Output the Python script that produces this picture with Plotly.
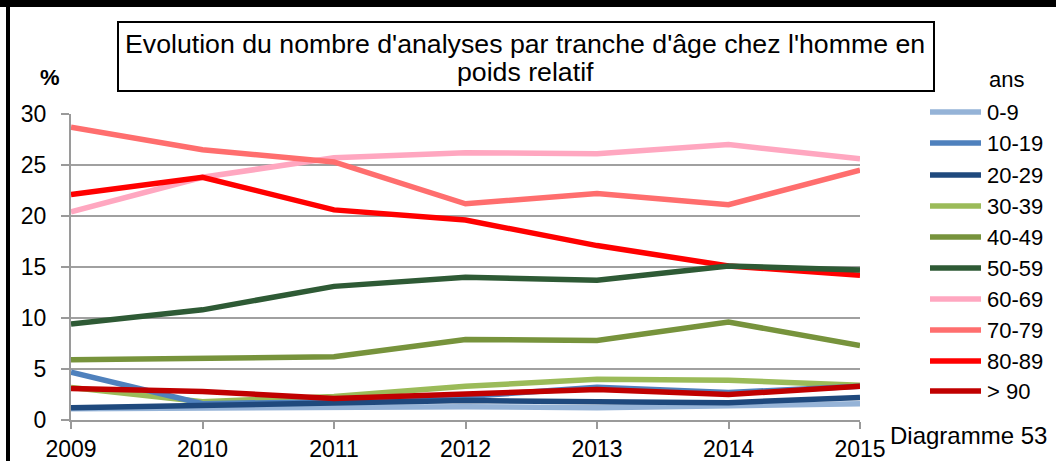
import plotly.graph_objects as go

# Years on the x axis
years = [2009, 2010, 2011, 2012, 2013, 2014, 2015]

# Share of analyses (%) per age band
age_bands = ["0-9", "10-19", "20-29", "30-39", "40-49", "50-59",
             "60-69", "70-79", "80-89", "> 90"]

v_0_9 = [1.1, 1.2, 1.2, 1.3, 1.2, 1.4, 1.6]
v_10_19 = [4.7, 1.6, 1.8, 2.3, 3.2, 2.7, 3.3]
v_20_29 = [1.2, 1.4, 1.6, 1.9, 1.8, 1.7, 2.2]
v_30_39 = [3.2, 1.8, 2.3, 3.3, 4.0, 3.9, 3.4]
v_40_49 = [5.9, 6.1, 6.2, 7.9, 7.8, 9.6, 7.3]
v_50_59 = [9.4, 10.8, 13.1, 14.0, 13.7, 15.1, 14.7]
v_60_69 = [20.4, 23.8, 25.7, 26.2, 26.1, 27.0, 25.6]
v_70_79 = [28.7, 26.5, 25.3, 21.2, 22.2, 21.1, 24.5]
v_80_89 = [22.1, 23.8, 20.6, 19.6, 17.1, 15.1, 14.2]
v_90 = [3.1, 2.8, 2.1, 2.5, 3.0, 2.5, 3.3]

series = [v_0_9, v_10_19, v_20_29, v_30_39, v_40_49, v_50_59,
          v_60_69, v_70_79, v_80_89, v_90]

colors = ["#95b3d7", "#4f81bd", "#1f497d", "#9bbb59", "#77933c", "#2e5a35",
          "#ffa7c0", "#ff6e6e", "#ff0000", "#c00000"]

y_ticks = [0, 5, 10, 15, 20, 25, 30]

FONT = "Liberation Sans, Arial, sans-serif"
W, H = 1056, 461
L, R, T, B = 71, 860, 114, 420  # plot area in pixels


def px(x):
    return (x - L) / (R - L)


def py(y):
    return (B - y) / (B - T)


fig = go.Figure()

# Draw back-to-front so the lower bands sit on top
order = [6, 7, 8, 5, 4, 3, 1, 0, 2, 9]
for i in order:
    fig.add_trace(go.Scatter(
        x=years, y=series[i], mode="lines", name=age_bands[i],
        line=dict(color=colors[i], width=5.5),
        showlegend=False, cliponaxis=False,
    ))

shapes = []
annotations = []

# Outer frame edges (top and left)
shapes.append(dict(type="rect", xref="paper", yref="paper",
                   x0=px(0), x1=px(W), y0=py(0), y1=py(7),
                   fillcolor="black", line=dict(width=0), layer="above"))
shapes.append(dict(type="rect", xref="paper", yref="paper",
                   x0=px(6), x1=px(10), y0=py(0), y1=py(H),
                   fillcolor="black", line=dict(width=0), layer="above"))

# Title box
shapes.append(dict(type="rect", xref="paper", yref="paper",
                   x0=px(118), x1=px(934), y0=py(22), y1=py(91),
                   fillcolor="white", line=dict(color="black", width=2)))
annotations.append(dict(
    xref="paper", yref="paper", x=px(525), y=py(44), showarrow=False,
    xanchor="center", yanchor="middle",
    text="Evolution du nombre d'analyses par tranche d'âge chez l'homme en",
    font=dict(family=FONT, size=26.7, color="black")))
annotations.append(dict(
    xref="paper", yref="paper", x=px(525), y=py(72), showarrow=False,
    xanchor="center", yanchor="middle", text="poids relatif",
    font=dict(family=FONT, size=26.7, color="black")))

# Axis unit
annotations.append(dict(
    xref="paper", yref="paper", x=px(50), y=py(77), showarrow=False,
    xanchor="center", yanchor="middle", text="<b>%</b>",
    font=dict(family=FONT, size=22, color="black")))

# Legend drawn by hand: heading, sample lines and labels
annotations.append(dict(
    xref="paper", yref="paper", x=px(987), y=py(80), showarrow=False,
    xanchor="left", yanchor="middle", text="ans",
    font=dict(family=FONT, size=22, color="black")))
legend_y = [112, 143, 175, 206, 237, 268, 299, 330, 361, 391]
for name, col, ly in zip(age_bands, colors, legend_y):
    shapes.append(dict(type="line", xref="paper", yref="paper",
                       x0=px(930), x1=px(981), y0=py(ly), y1=py(ly),
                       line=dict(color=col, width=5.5)))
    annotations.append(dict(
        xref="paper", yref="paper", x=px(985), y=py(ly), showarrow=False,
        xanchor="left", yanchor="middle", text=name,
        font=dict(family=FONT, size=22, color="black")))

annotations.append(dict(
    xref="paper", yref="paper", x=px(1049), y=py(435), showarrow=False,
    xanchor="right", yanchor="middle", text="Diagramme 53",
    font=dict(family=FONT, size=24, color="black")))

fig.update_layout(
    width=W, height=H,
    margin=dict(l=L, r=W - R, t=T, b=H - B, pad=0, autoexpand=False),
    paper_bgcolor="white", plot_bgcolor="white",
    font=dict(family=FONT, size=23, color="black"),
    shapes=shapes, annotations=annotations,
    xaxis=dict(
        range=[2009, 2015], tickmode="array", tickvals=years,
        ticktext=[str(y) for y in years],
        showgrid=False, zeroline=False, automargin=False,
        showline=True, linecolor="#9a9a9a", linewidth=2,
        ticks="outside", ticklen=7, tickcolor="#9a9a9a", tickwidth=2,
        tickfont=dict(family=FONT, size=23, color="black"),
    ),
    yaxis=dict(
        range=[0, 30], tickmode="array", tickvals=y_ticks,
        showgrid=True, gridcolor="#a0a0a0", gridwidth=2,
        zeroline=False, automargin=False,
        showline=True, linecolor="#9a9a9a", linewidth=2,
        ticks="outside", ticklen=8, tickcolor="#9a9a9a", tickwidth=2,
        ticklabelstandoff=10,
        tickfont=dict(family=FONT, size=23, color="black"),
    ),
)

fig.write_html("out.html")
